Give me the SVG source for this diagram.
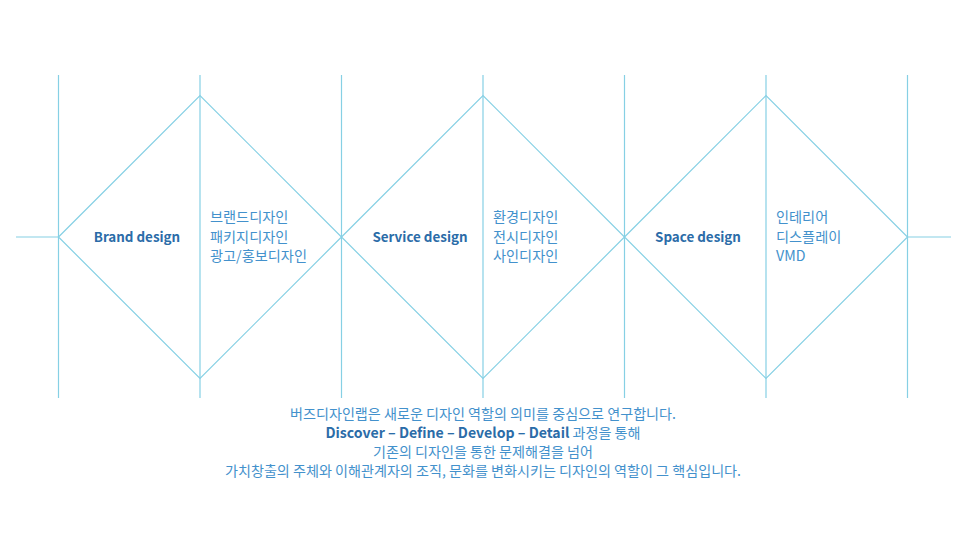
<svg xmlns="http://www.w3.org/2000/svg" width="966" height="560" viewBox="0 0 966 560">
<style>
.ln{stroke:#86d0e4;stroke-width:1.2;fill:none}
.t{font-family:"Noto Sans CJK KR","Noto Sans",sans-serif;font-size:13.4px;font-weight:bold;fill:#2b6ca8;text-anchor:middle}
.l{font-family:"Noto Sans CJK KR","Noto Sans",sans-serif;font-size:14.2px;fill:#4391cc}
.b{font-family:"Noto Sans CJK KR","Noto Sans",sans-serif;font-size:14.1px;fill:#4391cc;text-anchor:middle}
.bb{font-weight:bold;fill:#2b6ca8}
</style>
<rect width="966" height="560" fill="#ffffff"/>
<g id="connectors">
<path class="ln" d="M58.5 75V398M200 75V398M341.5 75V398M483 75V398M624.5 75V398M766 75V398M907.5 75V398"/>
<path class="ln" d="M16 237H58.5M907.5 237H951"/>
</g>
<g id="brand">
<path class="ln" d="M58.5 237L200 95.5L341.5 237L200 378.5Z"/>
<text class="t" x="137" y="242">Brand design</text>
<text class="l" x="210" y="222">브랜드디자인</text>
<text class="l" x="210" y="242">패키지디자인</text>
<text class="l" x="210" y="261">광고/홍보디자인</text>
</g>
<g id="service">
<path class="ln" d="M341.5 237L483 95.5L624.5 237L483 378.5Z"/>
<text class="t" x="420" y="242">Service design</text>
<text class="l" x="493" y="222">환경디자인</text>
<text class="l" x="493" y="242">전시디자인</text>
<text class="l" x="493" y="261">사인디자인</text>
</g>
<g id="space">
<path class="ln" d="M624.5 237L766 95.5L907.5 237L766 378.5Z"/>
<text class="t" x="698" y="242">Space design</text>
<text class="l" x="776" y="222">인테리어</text>
<text class="l" x="776" y="242">디스플레이</text>
<text class="l" x="776" y="261">VMD</text>
</g>
<g id="description">
<text class="b" x="483" y="419">버즈디자인랩은 새로운 디자인 역할의 의미를 중심으로 연구합니다.</text>
<text class="b" x="483" y="438"><tspan class="bb">Discover – Define – Develop – Detail</tspan> 과정을 통해</text>
<text class="b" x="483" y="457">기존의 디자인을 통한 문제해결을 넘어</text>
<text class="b" x="483" y="476">가치창출의 주체와 이해관계자의 조직, 문화를 변화시키는 디자인의 역할이 그 핵심입니다.</text>
</g>
</svg>
